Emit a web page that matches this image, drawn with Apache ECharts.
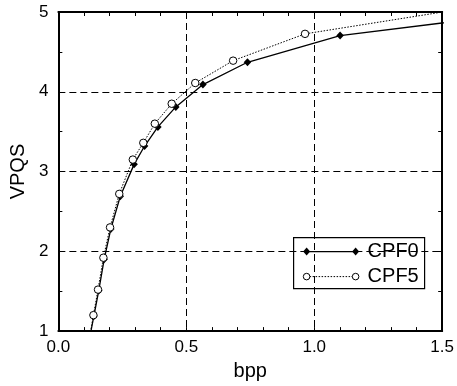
<!DOCTYPE html>
<html>
<head>
<meta charset="utf-8">
<script src="https://cdn.jsdelivr.net/npm/echarts@6/dist/echarts.min.js"></script>
<style>html,body{margin:0;padding:0;background:#fff}#c{width:457px;height:386px}</style>
</head>
<body>
<div id="c"></div>
<script>
// CPF0 (filled diamonds); first and last points lie outside the axes and are clipped
var cpf0X = [0.12, 0.139, 0.158, 0.179, 0.205, 0.242, 0.296, 0.337, 0.389, 0.459, 0.565, 0.739, 1.101, 1.62];
var cpf0Y = [0.88, 1.19, 1.51, 1.90, 2.28, 2.69, 3.09, 3.32, 3.56, 3.81, 4.09, 4.37, 4.705, 4.91];
// CPF5 (open circles)
var cpf5X = [0.12, 0.137, 0.155, 0.176, 0.202, 0.238, 0.291, 0.332, 0.377, 0.443, 0.535, 0.683, 0.964, 1.62];
var cpf5Y = [0.88, 1.20, 1.52, 1.92, 2.30, 2.72, 3.15, 3.36, 3.60, 3.85, 4.11, 4.39, 4.726, 5.06];
var xTicks = [0, 0.5, 1.0, 1.5];
var yTicks = [1, 2, 3, 4, 5];
var seriesNames = ['CPF0', 'CPF5'];

function pairs(xs, ys) { return xs.map(function (x, i) { return [x, ys[i]]; }); }
function inRange(d) { return d[0] >= 0 && d[0] <= 1.5 && d[1] >= 1 && d[1] <= 5; }
function markData(xs, ys) {
  return pairs(xs, ys).map(function (d) {
    return inRange(d) ? d : { value: d, symbol: 'none' };
  });
}

var FONT = 'Liberation Sans, Arial, sans-serif';
var chart = echarts.init(document.getElementById('c'), null, { renderer: 'canvas' });

function xAx(pos, show) {
  return {
    type: 'value', position: pos, min: xTicks[0], max: xTicks[xTicks.length - 1], interval: 0.5,
    name: show ? 'bpp' : '', nameLocation: 'middle', nameGap: 29,
    nameTextStyle: { fontFamily: FONT, fontSize: 20, color: '#000' },
    axisLine: { show: true, onZero: false, lineStyle: { color: '#000', width: 2 } },
    axisTick: { show: true, inside: true, length: 4, lineStyle: { color: '#000' } },
    minorTick: { show: true, splitNumber: 5, length: 4, lineStyle: { color: '#000' } },
    axisLabel: { show: show, fontFamily: FONT, fontSize: 17, color: '#000', margin: 8,
      formatter: function (v) { return v.toFixed(1); } },
    splitLine: { show: show, lineStyle: { color: '#000', type: [7, 4], width: 1 } },
    minorSplitLine: { show: false }
  };
}
function yAx(pos, show) {
  return {
    type: 'value', position: pos, min: yTicks[0], max: yTicks[yTicks.length - 1], interval: 1,
    name: show ? 'VPQS' : '', nameLocation: 'middle', nameGap: 29,
    nameTextStyle: { fontFamily: FONT, fontSize: 20, color: '#000' },
    axisLine: { show: true, onZero: false, lineStyle: { color: '#000', width: 2 } },
    axisTick: { show: true, inside: true, length: 4, lineStyle: { color: '#000' } },
    minorTick: { show: true, splitNumber: 2, length: 4, lineStyle: { color: '#000' } },
    axisLabel: { show: show, fontFamily: FONT, fontSize: 17, color: '#000', margin: 10 },
    splitLine: { show: show, lineStyle: { color: '#000', type: [7, 4], width: 1 } }
  };
}

// legend drawn as graphic (symbols at both ends of sample line)
var lg = { x: 293, y: 237, w: 131, h: 51 };
var legendGraphic = {
  type: 'group', left: lg.x, top: lg.y, z: 100,
  children: [
    { type: 'rect', shape: { x: 0, y: 0, width: lg.w, height: lg.h },
      style: { fill: '#fff', stroke: '#000', lineWidth: 1.2 } },
    { type: 'line', shape: { x1: 13, y1: 14, x2: 62, y2: 14 }, style: { stroke: '#000', lineWidth: 1.3 } },
    { type: 'polygon', shape: { points: [[13, 10], [16.5, 14], [13, 18], [9.5, 14]] }, style: { fill: '#000' } },
    { type: 'polygon', shape: { points: [[62, 10], [65.5, 14], [62, 18], [58.5, 14]] }, style: { fill: '#000' } },
    { type: 'text', style: { x: 74, y: 14, text: seriesNames[0], font: '20px ' + FONT, fill: '#000', verticalAlign: 'middle' } },
    { type: 'line', shape: { x1: 13, y1: 39, x2: 62, y2: 39 }, style: { stroke: '#000', lineWidth: 1, lineDash: [1.5, 1.5] } },
    { type: 'circle', shape: { cx: 13, cy: 39, r: 3.3 }, style: { fill: '#fff', stroke: '#000', lineWidth: 1 } },
    { type: 'circle', shape: { cx: 62, cy: 39, r: 3.3 }, style: { fill: '#fff', stroke: '#000', lineWidth: 1 } },
    { type: 'text', style: { x: 74, y: 39, text: seriesNames[1], font: '20px ' + FONT, fill: '#000', verticalAlign: 'middle' } }
  ]
};

chart.setOption({
  animation: false,
  backgroundColor: '#fff',
  grid: { left: 57, right: 13, top: 12, bottom: 53, containLabel: false },
  xAxis: [xAx('bottom', true), xAx('top', false)],
  yAxis: [yAx('left', true), yAx('right', false)],
  graphic: [legendGraphic],
  series: [
    { name: seriesNames[0], type: 'line', xAxisIndex: 0, yAxisIndex: 0, clip: true,
      data: markData(cpf0X, cpf0Y), symbol: 'diamond', symbolSize: [7.5, 8], showAllSymbol: true,
      lineStyle: { color: '#000', width: 1.3 }, itemStyle: { color: '#000', borderWidth: 0 }, z: 3 },
    { name: seriesNames[1], type: 'line', xAxisIndex: 0, yAxisIndex: 0, clip: true,
      data: markData(cpf5X, cpf5Y), symbol: 'circle', symbolSize: 7.5, showAllSymbol: true,
      lineStyle: { color: '#000', width: 1, type: [1.5, 1.5] },
      itemStyle: { color: '#fff', borderColor: '#000', borderWidth: 1 }, z: 4 }
  ]
});
</script>
</body>
</html>
